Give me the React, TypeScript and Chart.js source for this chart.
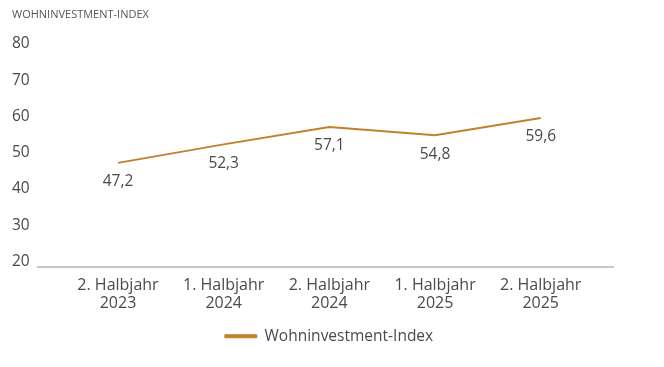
import React, { useEffect, useRef } from "react";
import { Chart, registerables } from "chart.js";

Chart.register(...registerables);

const titleText = "WOHNINVESTMENT-INDEX";
const seriesName = "Wohninvestment-Index";
const halves = ["2. Halbjahr", "1. Halbjahr", "2. Halbjahr", "1. Halbjahr", "2. Halbjahr"];
const years = ["2023", "2024", "2024", "2025", "2025"];
const values = [47.2, 52.3, 57.1, 54.8, 59.6];
const yTicks = [20, 30, 40, 50, 60, 70, 80];

const LINE_COLOR = "#c1802c";
const TEXT_COLOR = "#4a4a4a";
const FONT = "'Open Sans', sans-serif";

const valueLabels = {
  id: "valueLabels",
  afterDatasetsDraw(chart: any) {
    const ctx = chart.ctx;
    const meta = chart.getDatasetMeta(0);
    ctx.save();
    ctx.font = `15.5px ${FONT}`;
    ctx.fillStyle = TEXT_COLOR;
    ctx.textAlign = "center";
    ctx.textBaseline = "middle";
    meta.data.forEach((pt: any, i: number) => {
      const v = values[i];
      ctx.fillText(v.toFixed(1).replace(".", ","), pt.x, pt.y + 19);
    });
    ctx.restore();
  },
};

export default function App() {
  const ref = useRef<HTMLCanvasElement | null>(null);
  useEffect(() => {
    if (!ref.current) return;
    const chart = new Chart(ref.current, {
      type: "line",
      data: {
        datasets: [
          {
            label: seriesName,
            data: values.map((v, i) => ({ x: i, y: v })),
            borderColor: LINE_COLOR,
            backgroundColor: LINE_COLOR,
            borderWidth: 2,
            pointRadius: 0,
            tension: 0,
          },
        ],
      },
      options: {
        animation: false,
        responsive: true,
        maintainAspectRatio: false,
        layout: { padding: { left: 4, right: 10, top: 0, bottom: 5 } },
        scales: {
          x: {
            type: "linear",
            min: -0.757,
            max: 4.684,
            grid: { display: false, drawTicks: false },
            border: { display: true, color: "#c6c6c6", width: 2 },
            afterBuildTicks: (s: any) => {
              s.ticks = values.map((_, i) => ({ value: i }));
            },
            afterFit: (s: any) => {
              s.height = 52;
            },
            ticks: {
              autoSkip: false,
              maxRotation: 0,
              padding: 10,
              color: TEXT_COLOR,
              font: { family: FONT, size: 16, lineHeight: 1.12 },
              callback: (v: any) => [halves[v], years[v]],
            },
          },
          y: {
            min: 18.63,
            max: 80,
            grid: { display: false, drawTicks: false },
            border: { display: false },
            afterBuildTicks: (s: any) => {
              s.ticks = yTicks.map((v) => ({ value: v }));
            },
            afterFit: (s: any) => {
              s.width = 26;
            },
            ticks: {
              crossAlign: "far",
              padding: 0,
              color: TEXT_COLOR,
              font: { family: FONT, size: 15.5 },
            },
          },
          yRight: {
            type: "linear",
            position: "right",
            axis: "y",
            display: true,
            grid: { display: false, drawTicks: false },
            border: { display: false },
            ticks: { display: false },
            afterFit: (s: any) => {
              s.width = 33;
            },
          },
        },
        plugins: {
          title: {
            display: true,
            text: titleText,
            align: "start",
            color: "#555555",
            font: { family: FONT, size: 11, weight: "500", lineHeight: 1.2 },
            padding: { top: 0, bottom: 22.7 },
          },
          legend: {
            display: true,
            position: "bottom",
            labels: {
              boxWidth: 32,
              boxHeight: 3,
              color: TEXT_COLOR,
              font: { family: FONT, size: 15.5 },
              padding: 10,
              generateLabels: (c: any) =>
                Chart.defaults.plugins.legend.labels
                  .generateLabels(c)
                  .map((l: any) => ({ ...l, lineWidth: 1 })),
            },
          },
          tooltip: { enabled: false },
        },
      },
      plugins: [valueLabels],
    });
    return () => chart.destroy();
  }, []);
  return (
    <div style={{ width: "648px", height: "351px", position: "relative" }}>
      <canvas ref={ref} />
    </div>
  );
}
